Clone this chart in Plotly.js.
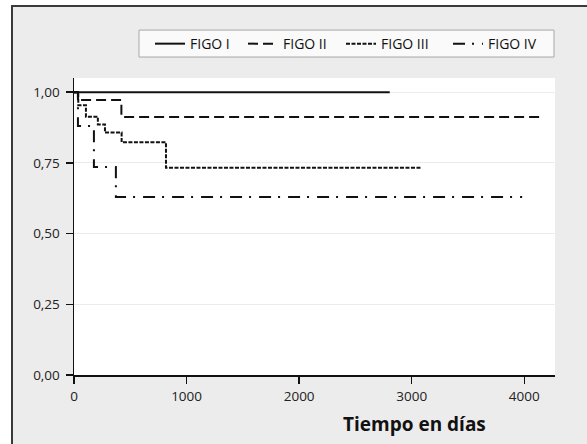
<!DOCTYPE html>
<html>
<head>
<meta charset="utf-8">
<script src="https://cdn.plot.ly/plotly-3.0.1.min.js"></script>
<style>
  html, body { margin: 0; padding: 0; background: #ffffff; overflow: hidden; }
  #frame { position: absolute; left: 11px; top: 5px; width: 620px; height: 480px;
           background: #ebeceb; border-left: 2px solid #3a3a3a; border-top: 2px solid #3a3a3a; }
  #chart { position: absolute; left: 0; top: 0; width: 587px; height: 444px; }
</style>
</head>
<body>
<div id="frame"></div>
<div id="chart"></div>
<script>
// Data (days, survival proportion)
const figoI_x   = [0, 2805];
const figoI_y   = [1.0, 1.0];
const figoII_x  = [0, 35, 421, 4132];
const figoII_y  = [1.0, 0.972, 0.912, 0.912];
const figoIII_x = [0, 38, 106, 212, 275, 423, 817, 3084];
const figoIII_y = [1.0, 0.954, 0.913, 0.886, 0.857, 0.823, 0.733, 0.733];
const figoIV_x  = [0, 35, 177, 372, 3981];
const figoIV_y  = [1.0, 0.88, 0.735, 0.629, 0.629];

const seriesNames = ["FIGO I", "FIGO II", "FIGO III", "FIGO IV"];
const yTickVals = [0, 0.25, 0.5, 0.75, 1.0];
const yTickText = ["0,00", "0,25", "0,50", "0,75", "1,00"];
const xTickVals = [0, 1000, 2000, 3000, 4000];
const xTickText = ["0", "1000", "2000", "3000", "4000"];
const xTitle = "Tiempo en días";

const FONT = "Open Sans, sans-serif";

// plot area in pixels (for placing paper-referenced elements)
const PL = 74, PR = 555, PT = 78, PB = 375.5;
const px2x = p => (p - PL) / (PR - PL);
const px2y = p => (PB - p) / (PB - PT);

function step(x, y, name, dash, legendId) {
  return { x: x, y: y, name: name, type: "scatter", mode: "lines",
           line: { shape: "hv", color: "#111111", width: 2, dash: dash },
           legend: legendId, hoverinfo: "skip" };
}

const traces = [
  step(figoIII_x, figoIII_y, seriesNames[2], "4px,1.5px", "legend3"),
  step(figoIV_x, figoIV_y, seriesNames[3], "12px,7px,2px,8px", "legend4"),
  step(figoII_x, figoII_y, seriesNames[1], "10px,5px", "legend2"),
  step(figoI_x, figoI_y, seriesNames[0], "solid", "legend")
];

function leg(textStartPx) {
  return {
    orientation: "h", x: px2x(textStartPx - 41), xanchor: "left",
    y: px2y(44), yanchor: "middle",
    bgcolor: "rgba(0,0,0,0)", borderwidth: 0,
    font: { family: FONT, size: 14, color: "#111" }
  };
}

const axisCommon = {
  zeroline: false, showline: true, linecolor: "#111", linewidth: 1.5,
  ticks: "outside", ticklen: 7, tickwidth: 1.5, tickcolor: "#111",
  tickfont: { family: FONT, size: 13.5, color: "#222" }
};

const layout = {
  width: 587, height: 444,
  margin: { l: PL, r: 587 - PR, t: PT, b: 444 - PB, pad: 0 },
  paper_bgcolor: "rgba(0,0,0,0)",
  plot_bgcolor: "#ffffff",
  showlegend: true,
  legend: leg(191), legend2: leg(284), legend3: leg(382), legend4: leg(489),
  xaxis: Object.assign({}, axisCommon, {
    range: [0, 4273], tickvals: xTickVals, ticktext: xTickText,
    showgrid: false, ticklabelstandoff: 1
  }),
  yaxis: Object.assign({}, axisCommon, {
    range: [0, 1.05], tickvals: yTickVals, ticktext: yTickText,
    showgrid: true, gridcolor: "#ececec", gridwidth: 1, ticklabelstandoff: 3
  }),
  shapes: [{
    type: "rect", xref: "paper", yref: "paper",
    x0: px2x(139), x1: px2x(554), y0: px2y(57), y1: px2y(30),
    fillcolor: "#fafafa", line: { color: "#a8a8a8", width: 1 }, layer: "below"
  }],
  annotations: [{
    text: "<b>" + xTitle + "</b>", xref: "paper", yref: "paper",
    x: px2x(414), y: px2y(425),
    xanchor: "center", yanchor: "middle", showarrow: false,
    font: { family: FONT, size: 19, color: "#111" }
  }]
};

Plotly.newPlot("chart", traces, layout, { staticPlot: true, displayModeBar: false });
</script>
</body>
</html>
